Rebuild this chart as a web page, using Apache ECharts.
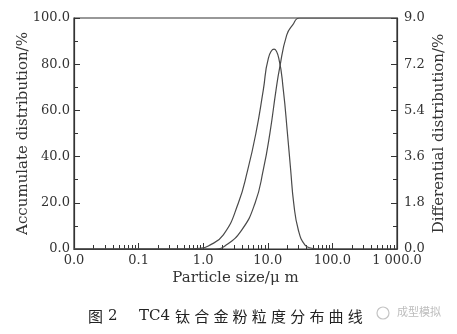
<!DOCTYPE html>
<html>
<head>
<meta charset="utf-8">
<script src="https://cdn.jsdelivr.net/npm/echarts@6/dist/echarts.min.js"></script>
<style>
html,body{margin:0;padding:0;background:#fff;}
#c{width:457px;height:334px;}
</style>
</head>
<body>
<div id="c"></div>
<script>
// ---- data ----
const xTickValues = [0.01, 0.1, 1, 10, 100, 1000];
const xTickLabels = ['0.0', '0.1', '1.0', '10.0', '100.0', '1 000.0'];
const leftTicks = [0, 20, 40, 60, 80, 100];
const rightTicks = [0, 1.8, 3.6, 5.4, 7.2, 9.0];

// cumulative (accumulate) distribution, % (left axis)
const cumSize  = [0.01, 1.0, 1.52, 2.17, 3.94, 6.34, 8.51, 10.8, 13.4, 15.2, 19.6, 24.3, 31.0, 1000];
const cumValue = [0,    0,   0,    1.3,  8.2,  19.8, 34.2, 50.3, 68.8, 78.2, 92.6, 97.0, 100,  100];

// differential distribution, % (right axis)
const diffSize  = [0.01, 0.5, 0.89, 1.2,  2.05, 3.49, 4.89, 6.57, 8.51, 10.2, 12.5, 14.8, 17.4, 20.1, 22.6, 25.2, 29.7, 37.7, 47.8, 60, 1000];
const diffValue = [0,    0,   0.03, 0.12, 0.55, 1.78, 3.08, 4.53, 6.19, 7.43, 7.79, 7.43, 6.19, 4.53, 3.08, 1.78, 0.74, 0.15, 0.03, 0,  0];

const xName = 'Particle size/\u03bc m';
const yLeftName = 'Accumulate distribution/%';
const yRightName = 'Differential distribution/%';
const captionHead = ['图', '2', 'TC4'];
const captionBody = '钛合金粉粒度分布曲线';
const watermark = '成型模拟';

// minor tick values on the log axis (2..9 of each decade)
const minorVals = [];
for (let e = -2; e < 3; e++) {
  for (let m = 2; m <= 9; m++) minorVals.push(+(m * Math.pow(10, e)).toPrecision(3));
}

const serif = 'DejaVu Serif';
const axisColor = '#333';
const lineColor = '#4a4a4a';

const gridBox = { left: 74, right: 60, top: 18, bottom: 85 };

function xLabel(v) {
  const i = Math.round(Math.log10(v)) + 2;
  return xTickLabels[i] !== undefined ? xTickLabels[i] : '';
}

const graphics = [];
const headX = [88, 108, 139];
captionHead.forEach((t, i) => {
  graphics.push({
    type: 'text', left: headX[i], top: 309,
    style: { text: t, font: (i === 0 ? '15px "Noto Sans CJK SC"' : '15px "DejaVu Serif"'), fill: '#222' }
  });
});
Array.from(captionBody).forEach((ch, i) => {
  graphics.push({
    type: 'text', left: 175 + i * 19.2, top: 309,
    style: { text: ch, font: '15px "Noto Sans CJK SC"', fill: '#222' }
  });
});
graphics.push({
  type: 'circle', shape: { cx: 383, cy: 313, r: 6 },
  style: { fill: 'none', stroke: '#c4c4c4', lineWidth: 1.2 }
});
graphics.push({
  type: 'text', left: 397, top: 306,
  style: { text: watermark, font: '11px "Noto Sans CJK SC"', fill: '#bdbdbd' }
});

const chart = echarts.init(document.getElementById('c'), null, { renderer: 'canvas' });
chart.setOption({
  animation: false,
  backgroundColor: '#fff',
  grid: [
    Object.assign({ show: true, borderColor: axisColor, borderWidth: 1.2, backgroundColor: 'transparent' }, gridBox),
    Object.assign({ show: false }, gridBox)
  ],
  xAxis: [
    {
      type: 'log', logBase: 10, min: 0.01, max: 1000, gridIndex: 0,
      name: xName, nameLocation: 'middle', nameGap: 22, nameMoveOverlap: false,
      nameTextStyle: { fontFamily: serif, fontSize: 15, color: axisColor },
      axisLine: { show: true, lineStyle: { color: axisColor, width: 1.2 } },
      axisTick: { show: true, inside: true, length: 6, lineStyle: { color: axisColor } },
      axisLabel: { formatter: xLabel, fontFamily: serif, fontSize: 13, color: axisColor, margin: 5 },
      splitLine: { show: false }
    },
    {
      type: 'log', logBase: 10, min: 0.01, max: 1000, gridIndex: 1,
      axisLine: { show: false },
      axisTick: { show: true, inside: true, length: 4, customValues: minorVals, lineStyle: { color: axisColor } },
      axisLabel: { show: false },
      splitLine: { show: false }
    }
  ],
  yAxis: [
    {
      type: 'value', min: 0, max: 100, interval: 20, gridIndex: 0, position: 'left',
      name: yLeftName, nameLocation: 'middle', nameGap: 43, nameRotate: 90, nameMoveOverlap: false,
      nameTextStyle: { fontFamily: serif, fontSize: 15, color: axisColor },
      axisLine: { show: true, lineStyle: { color: axisColor, width: 1.2 } },
      axisTick: { show: true, inside: true, length: 6, lineStyle: { color: axisColor } },
      minorTick: { show: true, splitNumber: 2, length: 4, lineStyle: { color: axisColor } },
      axisLabel: { formatter: v => v.toFixed(1), fontFamily: serif, fontSize: 13, color: axisColor, margin: 4 },
      splitLine: { show: false }
    },
    {
      type: 'value', min: 0, max: 9, interval: 1.8, gridIndex: 0, position: 'right',
      name: yRightName, nameLocation: 'middle', nameGap: 35, nameRotate: 90, nameMoveOverlap: false,
      nameTextStyle: { fontFamily: serif, fontSize: 15, color: axisColor },
      axisLine: { show: true, lineStyle: { color: axisColor, width: 1.2 } },
      axisTick: { show: true, inside: true, length: 6, lineStyle: { color: axisColor } },
      minorTick: { show: true, splitNumber: 2, length: 4, lineStyle: { color: axisColor } },
      axisLabel: { formatter: v => v.toFixed(1), fontFamily: serif, fontSize: 13, color: axisColor, margin: 7 },
      splitLine: { show: false }
    },
    {
      type: 'value', min: 0, max: 100, gridIndex: 1, show: false
    }
  ],
  series: [
    {
      type: 'line', name: 'cumulative', xAxisIndex: 0, yAxisIndex: 0,
      data: cumSize.map((s, i) => [s, cumValue[i]]),
      smooth: 0.5, symbol: 'none',
      lineStyle: { color: lineColor, width: 1.2 }
    },
    {
      type: 'line', name: 'differential', xAxisIndex: 0, yAxisIndex: 1,
      data: diffSize.map((s, i) => [s, diffValue[i]]),
      smooth: 0.5, symbol: 'none',
      lineStyle: { color: lineColor, width: 1.2 }
    }
  ],
  graphic: graphics
});
</script>
</body>
</html>
